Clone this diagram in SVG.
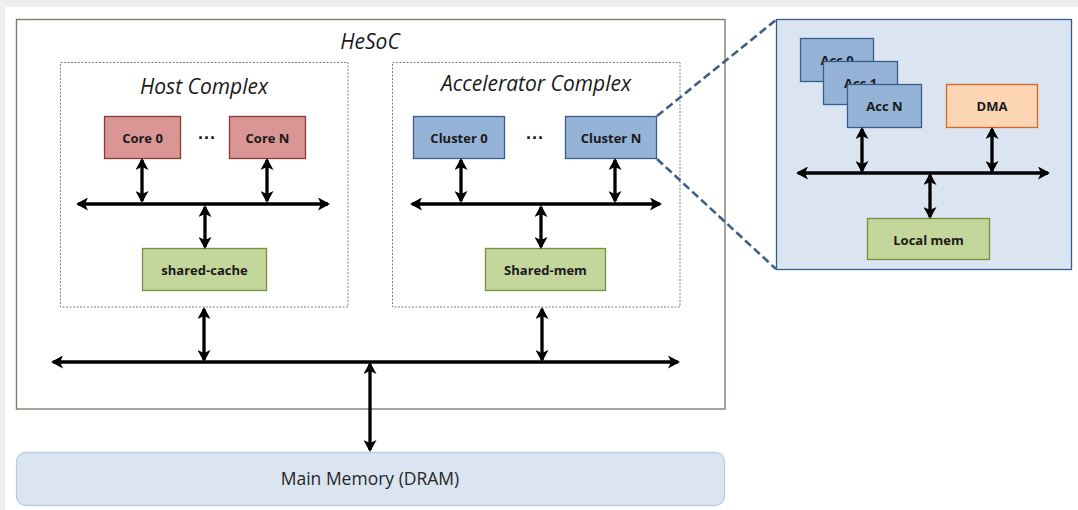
<svg xmlns="http://www.w3.org/2000/svg" width="1078" height="510" viewBox="0 0 1078 510">
<defs>
<marker id="ah" viewBox="0 0 12 13" refX="10" refY="6.5" markerWidth="12" markerHeight="13" markerUnits="userSpaceOnUse" orient="auto-start-reverse">
<path d="M0,0 L12,6.5 L0,13 L3,6.5 Z" fill="#000"/>
</marker>
<style>
.frame{fill:#fff;stroke:#7f7f6a;stroke-width:1.4}
.cplx{fill:none;stroke:#7f7f7f;stroke-width:1;stroke-dasharray:2,1.5}
.core{fill:#d99694;stroke:#8c3836;stroke-width:1.3}
.clu{fill:#95b3d7;stroke:#385d8a;stroke-width:1.3}
.mem{fill:#c3d69b;stroke:#76923c;stroke-width:1.3}
.dma{fill:#fcd5b5;stroke:#d2691e;stroke-width:1.3}
.lbl{font-family:"Open Sans","Liberation Sans",sans-serif;font-weight:bold;font-size:13px;fill:#1a1a1a;text-anchor:middle}
.ttl{font-family:"Open Sans","Liberation Sans",sans-serif;font-style:italic;font-size:21px;fill:#1a1a1a;text-anchor:middle}
.dots{font-family:"Liberation Sans",sans-serif;font-weight:bold;font-size:18px;fill:#1a1a1a;text-anchor:middle}
.ar{stroke:#000;stroke-width:3.3;fill:none;marker-start:url(#ah);marker-end:url(#ah)}
.zoom{stroke:#3e5f87;stroke-width:2.6;stroke-dasharray:8,4;fill:none}
</style>
</defs>
<rect x="0" y="0" width="1078" height="510" fill="#eeeeee"/>
<rect x="5" y="7" width="1073" height="503" fill="#ffffff"/>

<g id="hesoc">
<rect class="frame" x="16.5" y="19.5" width="708.5" height="389.5"/>
<text class="ttl" x="370" y="49">HeSoC</text>
</g>

<g id="host-complex">
<rect class="cplx" x="60.5" y="62.5" width="287.5" height="244.5"/>
<text class="ttl" x="204" y="94">Host Complex</text>
<text class="dots" x="207" y="144">···</text>
</g>
<g id="core0"><rect class="core" x="104.5" y="116.5" width="76" height="42"/><text class="lbl" x="142.5" y="142.5">Core 0</text></g>
<g id="coreN"><rect class="core" x="229.5" y="116.5" width="76" height="42"/><text class="lbl" x="267.5" y="142.5">Core N</text></g>
<g id="shared-cache"><rect class="mem" x="142.5" y="248.5" width="124" height="42"/><text class="lbl" x="204.5" y="274.5">shared-cache</text></g>

<g id="accel-complex">
<rect class="cplx" x="392.5" y="62.5" width="287.5" height="244.5"/>
<text class="ttl" x="536" y="91">Accelerator Complex</text>
<text class="dots" x="535" y="144">···</text>
</g>
<g id="cluster0"><rect class="clu" x="413.5" y="116.5" width="91" height="42"/><text class="lbl" x="459" y="142.5">Cluster 0</text></g>
<g id="clusterN"><rect class="clu" x="565.5" y="116.5" width="91" height="42"/><text class="lbl" x="611" y="142.5">Cluster N</text></g>
<g id="shared-mem"><rect class="mem" x="485.5" y="248.5" width="120" height="42"/><text class="lbl" x="545.5" y="274.5">Shared-mem</text></g>

<g id="main-memory">
<rect x="16.5" y="452.5" width="708" height="53" rx="9" fill="#dbe5f1" stroke="#b9cde5" stroke-width="1.3"/>
<text x="370" y="485" font-family="'Open Sans','Liberation Sans',sans-serif" font-size="17.5" fill="#262626" text-anchor="middle">Main Memory (DRAM)</text>
</g>

<g id="cluster-detail">
<rect x="776.5" y="19.5" width="295" height="250" fill="#dbe5f1" stroke="#385d8a" stroke-width="1.3"/>
</g>
<g id="acc0"><rect class="clu" x="800.5" y="38.5" width="73" height="43"/><text class="lbl" x="837" y="65">Acc 0</text></g>
<g id="acc1"><rect class="clu" x="823.5" y="61.5" width="74" height="43"/><text class="lbl" x="860.5" y="88">Acc 1</text></g>
<g id="accN"><rect class="clu" x="847.5" y="84.5" width="74" height="43"/><text class="lbl" x="884.5" y="111">Acc N</text></g>
<g id="dma"><rect class="dma" x="946.5" y="84.5" width="91" height="43"/><text class="lbl" x="992" y="111">DMA</text></g>
<g id="local-mem"><rect class="mem" x="867.5" y="218.5" width="122" height="41"/><text class="lbl" x="928.5" y="244.5">Local mem</text></g>

<g id="connectors">
<line class="ar" x1="142" y1="160" x2="142" y2="201"/>
<line class="ar" x1="267" y1="160" x2="267" y2="201"/>
<line class="ar" x1="78" y1="204" x2="328" y2="204"/>
<line class="ar" x1="205" y1="207" x2="205" y2="247"/>
<line class="ar" x1="461" y1="160" x2="461" y2="201"/>
<line class="ar" x1="615" y1="160" x2="615" y2="201"/>
<line class="ar" x1="412" y1="204" x2="660" y2="204"/>
<line class="ar" x1="541" y1="207" x2="541" y2="247"/>
<line class="ar" x1="53" y1="362" x2="678" y2="362"/>
<line class="ar" x1="204" y1="309" x2="204" y2="360"/>
<line class="ar" x1="542" y1="309" x2="542" y2="360"/>
<line class="ar" x1="370" y1="364" x2="370" y2="450"/>
<line class="ar" x1="862" y1="129" x2="862" y2="171"/>
<line class="ar" x1="992" y1="129" x2="992" y2="171"/>
<line class="ar" x1="798" y1="173" x2="1048" y2="173"/>
<line class="ar" x1="930" y1="175" x2="930" y2="217"/>
<line class="zoom" x1="657" y1="116" x2="776" y2="20"/>
<line class="zoom" x1="657" y1="159" x2="776" y2="269"/>
</g>
</svg>
